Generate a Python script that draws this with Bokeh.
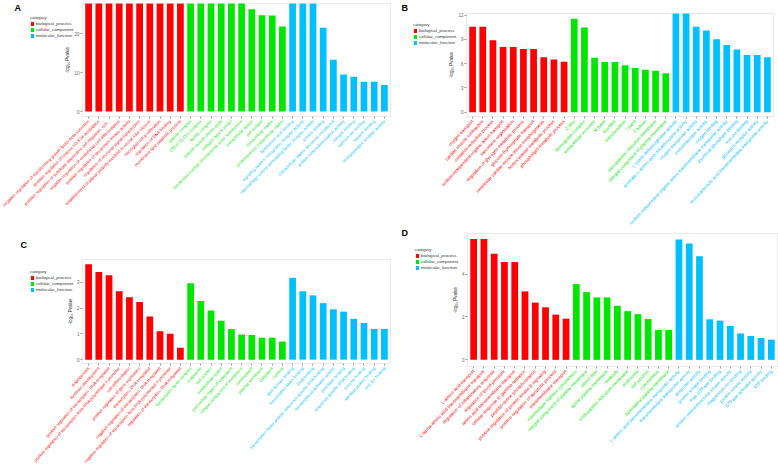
import math
from bokeh.plotting import figure
from bokeh.models import (Range1d, FixedTicker, Label, ColumnDataSource, LinearAxis,
                          BoxAnnotation)
from bokeh.layouts import row, column
from bokeh.embed import file_html
from bokeh.resources import INLINE

# ---------------- data ----------------
CATEGORIES = ["biological_process", "cellular_component", "molecular_function"]
CAT_COLORS = ["#FF0000", "#00E600", "#00BFFF"]

A_BP_TERMS = ["negative regulation of transforming growth factor beta secretion",
              "positive regulation of histone H3-K14 acetylation",
              "positive regulation of substrate-dependent cell migration, cell...",
              "negative regulation of endothelial cell differentiation",
              "positive regulation of tau-protein kinase activity",
              "regulation of neuronal signal transduction",
              "establishment of planar polarity involved in neural tube closure",
              "microglial cell proliferation",
              "regulation of DNA binding",
              "membrane lipid catabolic process"]
A_BP_VALUES = [28.5, 28.5, 28.5, 28.5, 28.5, 28.5, 28.5, 28.5, 28.5, 28.5]
A_CC_TERMS = ["catenin complex", "CRLF-CLCF1 complex", "NuRD complex", "smooth muscle dense body",
              "collagen type V trimer", "condensed nuclear chromosome outer kinetochore",
              "extracellular space", "cell surface", "extracellular matrix",
              "proteinaceous extracellular matrix"]
A_CC_VALUES = [28.5, 28.5, 28.5, 28.5, 28.5, 28.5, 26.2, 24.7, 24.6, 21.8]
A_MF_TERMS = ["lipoteichoic acid binding", "signaling pattern recognition receptor activity",
              "macrophage colony-stimulating factor receptor activity", "protein binding",
              "extracellular matrix structural constituent", "protein heterodimerization activity",
              "integrin binding", "calcium ion binding", "heparin binding",
              "endopeptidase inhibitor activity"]
A_MF_VALUES = [28.5, 28.5, 28.5, 21.5, 13.3, 9.5, 8.9, 7.6, 7.6, 6.8]
A_YTICKS = [0, 10, 20]

B_BP_TERMS = ["oxygen transport", "cardiac muscle contraction", "oxidation-reduction process",
              "sodium-independent organic anion transport", "sarcomere organization",
              "regulation of glycogen metabolic process", "glucose-6-phosphate transport",
              "ventricular cardiac muscle tissue morphogenesis", "homocysteine metabolic process",
              "phospholipid metabolic process"]
B_BP_VALUES = [10.55, 10.55, 8.9, 8.07, 8.07, 7.82, 7.82, 6.79, 6.5, 6.25]
B_CC_TERMS = ["Z disc", "hemoglobin complex", "extracellular exosome", "M band", "myofibril",
              "mitochondrion", "I band", "T-tubule", "sarcoplasmic reticulum membrane",
              "integral component of plasma membrane"]
B_CC_VALUES = [11.54, 10.47, 6.74, 6.2, 6.2, 5.79, 5.46, 5.26, 5.13, 4.8]
B_MF_TERMS = ["L-lysine dehydrogenase activity", "aromatic-L-amino-acid decarboxylase activity",
              "oxygen transporter activity", "oxidoreductase activity", "oxygen binding",
              "sodium-independent organic anion transmembrane transporter activity",
              "pyridoxal phosphate binding", "iron ion binding", "glucagon receptor activity",
              "monocarboxylic acid transmembrane transporter activity"]
B_MF_VALUES = [12.6, 12.6, 10.55, 10.1, 9.02, 8.32, 7.74, 7.08, 7.08, 6.79]
B_YTICKS = [0, 3, 6, 9, 12]

C_BP_TERMS = ["angiogenesis", "forebrain development",
              "positive regulation of transcription, DNA-templated",
              "positive regulation of transcription from RNA polymerase II promoter",
              "cell differentiation", "positive regulation of gene expression",
              "transcription, DNA-templated",
              "negative regulation of transcription, DNA-templated",
              "negative regulation of transcription from RNA polymerase II promoter",
              "regulation of transcription, DNA-templated"]
C_BP_VALUES = [3.70, 3.40, 3.27, 2.65, 2.42, 2.23, 1.67, 1.10, 1.00, 0.46]
C_CC_TERMS = ["transcription factor complex", "endosome", "cell junction", "extracellular space",
              "perinuclear region of cytoplasm", "integral component of membrane", "nucleoplasm",
              "plasma membrane", "cytoplasm", "nucleus"]
C_CC_VALUES = [2.96, 2.27, 1.90, 1.51, 1.19, 0.97, 0.95, 0.85, 0.85, 0.70]
C_MF_TERMS = ["SH3 domain binding", "transcription factor binding", "DNA binding",
              "transcription factor activity, sequence-specific DNA binding",
              "transcriptional activator activity", "chromatin binding",
              "sequence-specific DNA binding", "enzyme binding", "identical protein binding",
              "zinc ion binding"]
C_MF_VALUES = [3.17, 2.65, 2.49, 2.19, 1.95, 1.86, 1.58, 1.42, 1.19, 1.19]
C_YTICKS = [0, 1, 2, 3]

D_BP_TERMS = ["L-amino acid transport", "L-alpha-amino acid transmembrane transport",
              "regulation of inflammatory response", "regulation of blood pressure",
              "amino acid transmembrane transport", "cellular response to gamma radiation",
              "peptidyl-serine phosphorylation", "positive regulation of protein kinase B signaling",
              "positive regulation of apoptotic process", "transmembrane transport"]
D_BP_VALUES = [5.63, 5.63, 4.95, 4.56, 4.56, 3.19, 2.67, 2.45, 2.11, 1.92]
D_CC_TERMS = ["intermediate filament cytoskeleton", "integral component of plasma membrane",
              "stress fiber", "apical plasma membrane", "midbody", "endoplasmic reticulum membrane",
              "endosome", "cell junction", "cytoskeleton", "basolateral plasma membrane"]
D_CC_VALUES = [3.53, 3.16, 2.91, 2.91, 2.52, 2.27, 2.13, 1.91, 1.39, 1.39]
D_MF_TERMS = ["L-amino acid transmembrane transporter activity", "transmembrane transporter activity",
              "antiporter activity", "protein kinase binding", "Rab GTPase binding",
              "protein serine/threonine kinase activity", "magnesium ion binding",
              "protein kinase activity", "GTPase activator activity", "ATP binding"]
D_MF_VALUES = [5.61, 5.42, 4.83, 1.89, 1.83, 1.58, 1.23, 1.11, 1.02, 0.94]
D_YTICKS = [0, 2, 4]

FONT = "Liberation Sans"
GREY = "#BDBDBD"


def make_panel(letter, groups, yticks, yrange, W, H, box, label_size, angle_deg,
               legend_loc, letter_pos):
    """box = (left, right, top, bottom) of the plotting panel in canvas pixels."""
    bl, br, bt, bb = box
    n = sum(len(t) for t, _ in groups)
    x0, x1 = 0.4, n + 0.6
    y0, y1 = yrange
    ppx = (br - bl) / (x1 - x0)
    ppy = (bb - bt) / (y1 - y0)
    xs_, xe_ = x0 - bl / ppx, x1 + (W - br) / ppx
    ye_, ys_ = y1 + bt / ppy, y0 - (H - bb) / ppy

    p = figure(width=W, height=H, x_range=Range1d(xs_, xe_), y_range=Range1d(ys_, ye_),
               output_backend="svg", toolbar_location=None,
               x_axis_location=None, y_axis_location=None,
               min_border_left=0, min_border_right=0, min_border_top=0, min_border_bottom=0)
    for g in p.grid:
        g.visible = False
    p.outline_line_color = None
    p.background_fill_color = "white"

    idx = 1
    for (terms, vals), cat, col in zip(groups, CATEGORIES, CAT_COLORS):
        xs = list(range(idx, idx + len(terms)))
        src = ColumnDataSource(dict(x=xs, top=[min(v, y1) for v in vals]))
        p.vbar(x="x", top="top", bottom=0, width=0.66, source=src,
               fill_color=col, line_color=None, legend_label=cat)
        ax = LinearAxis(fixed_location=y0,
                        ticker=FixedTicker(ticks=xs),
                        major_label_overrides={x: t for x, t in zip(xs, terms)},
                        major_label_orientation=math.radians(angle_deg),
                        major_label_text_color=col,
                        major_label_text_font=FONT,
                        major_label_text_font_size=label_size,
                        major_label_standoff=2,
                        major_tick_out=2, major_tick_in=0,
                        major_tick_line_color="#999999",
                        minor_tick_line_color=None,
                        axis_line_color=None)
        p.add_layout(ax, "below")
        idx += len(terms)

    # panel border
    p.add_layout(BoxAnnotation(left=x0, right=x1, bottom=y0, top=y1,
                               fill_color=None, fill_alpha=0,
                               line_color=GREY, line_width=1))

    yax = LinearAxis(fixed_location=x0, bounds=(y0, y1),
                     ticker=FixedTicker(ticks=yticks),
                     major_label_text_font=FONT,
                     major_label_text_font_size="4.5px",
                     major_label_text_color="#666666",
                     major_label_standoff=1,
                     major_tick_out=2, major_tick_in=0,
                     major_tick_line_color="#999999",
                     minor_tick_line_color=None,
                     axis_line_color=None,
                     axis_label="-log\u2081\u2080 Pvalue",
                     axis_label_text_font=FONT,
                     axis_label_text_font_size="4.5px",
                     axis_label_text_font_style="normal",
                     axis_label_text_color="#333333",
                     axis_label_standoff=1)
    p.add_layout(yax, "left")

    # legend
    lg = p.legend[0]
    lg.title = "category"
    lg.title_text_font = FONT
    lg.title_text_font_size = "4.3px"
    lg.title_text_font_style = "normal"
    lg.title_text_color = "#333333"
    lg.title_standoff = 1
    lg.label_text_font = FONT
    lg.label_text_font_size = "4.3px"
    lg.label_text_color = "#333333"
    lg.label_height = 5
    lg.label_standoff = 2
    lg.glyph_width = 4
    lg.glyph_height = 5
    lg.spacing = 1
    lg.padding = 0
    lg.margin = 0
    lg.border_line_color = None
    lg.background_fill_alpha = 0
    lg.location = legend_loc

    # panel letter
    cx, cy = letter_pos
    p.add_layout(Label(x=xs_ + cx / ppx, y=ye_ - cy / ppy, text=letter,
                       text_font=FONT, text_font_size="9px", text_font_style="bold",
                       text_color="black", text_align="left", text_baseline="top"))
    return p


TOP_H, BOT_H = 227, 239

pA = make_panel("A", [(A_BP_TERMS, A_BP_VALUES), (A_CC_TERMS, A_CC_VALUES), (A_MF_TERMS, A_MF_VALUES)],
                A_YTICKS, (-1.28, 27.7), 391, TOP_H, (82, 390, 3, 116),
                "4.3px", 45, (30, 189.5), (14, 2.5))
pB = make_panel("B", [(B_BP_TERMS, B_BP_VALUES), (B_CC_TERMS, B_CC_VALUES), (B_MF_TERMS, B_MF_VALUES)],
                B_YTICKS, (-0.53, 12.2), 387, TOP_H, (75, 382, 13, 116),
                "4.55px", 47, (22, 182), (10, 2))
pC = make_panel("C", [(C_BP_TERMS, C_BP_VALUES), (C_CC_TERMS, C_CC_VALUES), (C_MF_TERMS, C_MF_VALUES)],
                C_YTICKS, (-0.15, 3.88), 391, BOT_H, (82, 390, 32, 136),
                "4.2px", 48, (30, 174.5), (20, 12.5))
pD = make_panel("D", [(D_BP_TERMS, D_BP_VALUES), (D_CC_TERMS, D_CC_VALUES), (D_MF_TERMS, D_MF_VALUES)],
                D_YTICKS, (-0.31, 5.89), 387, BOT_H, (76, 386, 6, 139),
                "4.6px", 46, (24, 196.5), (10, 0))

layout = column(row(pA, pB), row(pC, pD))
open("out.html", "w").write(file_html(layout, INLINE))
